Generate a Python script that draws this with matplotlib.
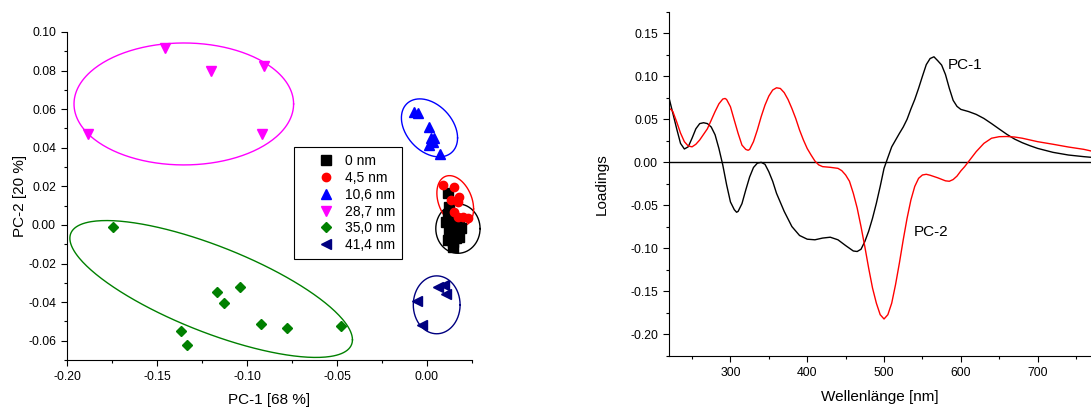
import numpy as np
import matplotlib
matplotlib.use("Agg")
import matplotlib.pyplot as plt
from matplotlib.ticker import MultipleLocator, FormatStrFormatter

plt.rcParams["font.family"] = ["Liberation Sans", "DejaVu Sans"]

# --- PCA scores (PC-1, PC-2) per layer thickness ---
labels = ["0 nm", "4,5 nm", "10,6 nm", "28,7 nm", "35,0 nm", "41,4 nm"]
colors = ["#000000", "#ff0000", "#0000ff", "#ff00ff", "#008000", "#000080"]
markers = ["s", "o", "^", "v", "D", "<"]

pc1_0nm = [0.0115, 0.0124, 0.0115, 0.0106, 0.0133, 0.0161, 0.0180, 0.0189,
           0.0124, 0.0161, 0.0115, 0.0143, 0.0161, 0.0143, 0.0180]
pc2_0nm = [0.0164, 0.0095, 0.0052, 0.0017, 0.0009, -0.0009, 0.0000, -0.0017,
           -0.0034, -0.0043, -0.0077, -0.0086, -0.0069, -0.0112, -0.0060]
pc1_4nm = [0.0087, 0.0152, 0.0180, 0.0133, 0.0171, 0.0152, 0.0171, 0.0199, 0.0226]
pc2_4nm = [0.0207, 0.0196, 0.0147, 0.0130, 0.0121, 0.0069, 0.0043, 0.0043, 0.0035]
pc1_10nm = [-0.0071, -0.0052, 0.0013, 0.0022, 0.0040, 0.0013, 0.0074, 0.0031]
pc2_10nm = [0.0587, 0.0579, 0.0506, 0.0449, 0.0449, 0.0415, 0.0366, 0.0432]
pc1_28nm = [-0.1454, -0.1200, -0.0903, -0.1883, -0.0914]
pc2_28nm = [0.0919, 0.0800, 0.0824, 0.0472, 0.0472]
pc1_35nm = [-0.1742, -0.1369, -0.1332, -0.1166, -0.1129, -0.1040, -0.0921, -0.0776, -0.0476]
pc2_35nm = [-0.0009, -0.0552, -0.0620, -0.0350, -0.0405, -0.0323, -0.0511, -0.0532, -0.0523]
pc1_41nm = [-0.0056, -0.0025, 0.0064, 0.0096, 0.0108]
pc2_41nm = [-0.0392, -0.0518, -0.0321, -0.0311, -0.0359]

scores_x = [pc1_0nm, pc1_4nm, pc1_10nm, pc1_28nm, pc1_35nm, pc1_41nm]
scores_y = [pc2_0nm, pc2_4nm, pc2_10nm, pc2_28nm, pc2_35nm, pc2_41nm]

# group ellipses: centre and two conjugate semi-axis vectors (data units)
ell_center = [(0.0172, -0.0019), (0.0157, 0.0124), (0.0014, 0.0503),
              (-0.1351, 0.0627), (-0.1199, -0.0332), (0.0054, -0.0414)]
ell_u = [(0.0123, 0.0), (0.0102, -0.0041), (0.0156, -0.0052),
         (0.0610, 0.0), (0.0785, -0.0263), (0.0130, 0.0)]
ell_v = [(0.0, 0.0128), (0.0, 0.0125), (0.0, 0.0141),
         (0.0, 0.0316), (0.0, 0.0238), (0.0, 0.0150)]

# --- loadings ---
wl_pc1 = [220, 230, 235, 240, 245, 250, 255, 260, 265, 270, 275, 280, 285, 290,
          295, 300, 305, 308, 310, 315, 320, 325, 330, 335, 340, 345, 350, 355,
          360, 370, 380, 390, 400, 410, 420, 430, 440, 450, 460, 465, 470, 475,
          480, 485, 490, 495, 500, 505, 510, 520, 525, 530, 535, 540, 545, 550,
          555, 560, 565, 570, 575, 580, 585, 590, 595, 600, 610, 620, 630, 640,
          650, 660, 670, 680, 690, 700, 720, 740, 760, 770]
pc1 = [0.075, 0.039, 0.022, 0.0155, 0.018, 0.028, 0.039, 0.045, 0.046, 0.045,
       0.041, 0.032, 0.016, -0.003, -0.026, -0.046, -0.055, -0.058, -0.057,
       -0.048, -0.032, -0.017, -0.006, -0.001, 0.000, -0.0023, -0.011, -0.022,
       -0.036, -0.057, -0.0746, -0.085, -0.0893, -0.090, -0.088, -0.087, -0.090,
       -0.0967, -0.103, -0.1036, -0.101, -0.092, -0.080, -0.065, -0.0476,
       -0.028, -0.007, 0.0056, 0.018, 0.0336, 0.041, 0.050, 0.062, 0.073, 0.086,
       0.100, 0.1135, 0.1206, 0.1226, 0.118, 0.113, 0.102, 0.086, 0.072, 0.065,
       0.0615, 0.059, 0.0557, 0.051, 0.045, 0.0387, 0.0325, 0.027, 0.0228,
       0.0193, 0.0162, 0.0116, 0.0085, 0.0066, 0.0058]

wl_pc2 = [220, 222, 225, 230, 235, 240, 245, 250, 255, 260, 270, 280, 285, 290,
          293, 295, 300, 305, 310, 315, 320, 323, 325, 330, 335, 340, 345, 350,
          355, 360, 365, 370, 375, 380, 385, 390, 395, 400, 405, 410, 415, 420,
          430, 440, 445, 450, 455, 460, 465, 470, 475, 480, 485, 490, 495, 500,
          505, 510, 515, 520, 525, 530, 535, 540, 545, 550, 555, 560, 570, 580,
          585, 590, 595, 600, 605, 610, 620, 630, 640, 650, 660, 670, 680, 690,
          700, 720, 740, 760, 770]
pc2 = [0.061, 0.062, 0.059, 0.047, 0.034, 0.024, 0.019, 0.018, 0.021, 0.026,
       0.039, 0.059, 0.068, 0.0735, 0.0742, 0.073, 0.0646, 0.049, 0.0336, 0.020,
       0.015, 0.014, 0.015, 0.024, 0.0375, 0.053, 0.0665, 0.077, 0.084, 0.0866,
       0.0858, 0.081, 0.073, 0.0626, 0.051, 0.0375, 0.026, 0.016, 0.0085,
       0.0015, -0.003, -0.005, -0.0058, -0.007, -0.0097, -0.0147, -0.022,
       -0.036, -0.053, -0.0746, -0.098, -0.123, -0.146, -0.1636, -0.177,
       -0.182, -0.177, -0.1636, -0.142, -0.117, -0.090, -0.065, -0.0437,
       -0.028, -0.0186, -0.0147, -0.0139, -0.0150, -0.018, -0.0215, -0.022,
       -0.020, -0.016, -0.010, -0.005, 0.0008, 0.0124, 0.022, 0.028, 0.0298,
       0.030, 0.0294, 0.028, 0.026, 0.024, 0.021, 0.0178, 0.0151, 0.0131]

fig = plt.figure(figsize=(10.91, 4.09), dpi=100)

def style_axes(ax):
    for side in ("top", "right"):
        ax.spines[side].set_visible(False)
    ax.tick_params(which="major", direction="out", length=4.5, width=0.8, labelsize=8.8)
    ax.tick_params(which="minor", direction="out", length=2.5, width=0.8)

# scores plot
ax1 = fig.add_axes([0.0614, 0.1198, 0.3712, 0.802])
t = np.linspace(0, 2 * np.pi, 300)
for i in range(len(labels)):
    cx, cy = ell_center[i]
    ux, uy = ell_u[i]
    vx, vy = ell_v[i]
    ax1.plot(cx + ux * np.cos(t) + vx * np.sin(t), cy + uy * np.cos(t) + vy * np.sin(t),
             color=colors[i], lw=1.0, clip_on=False)
for i in range(len(labels)):
    ms = {"D": 5.5, "o": 6.0}.get(markers[i], 6.5)
    ax1.plot(scores_x[i], scores_y[i], linestyle="none", marker=markers[i],
             color=colors[i], markersize=ms, label=labels[i], clip_on=False)
ax1.set_xlim(-0.2, 0.025)
ax1.set_ylim(-0.07, 0.10)
ax1.xaxis.set_major_locator(MultipleLocator(0.05))
ax1.xaxis.set_minor_locator(MultipleLocator(0.025))
ax1.yaxis.set_major_locator(MultipleLocator(0.02))
ax1.yaxis.set_minor_locator(MultipleLocator(0.01))
ax1.xaxis.set_major_formatter(FormatStrFormatter("%.2f"))
ax1.yaxis.set_major_formatter(FormatStrFormatter("%.2f"))
style_axes(ax1)
ax1.set_xlabel("PC-1 [68 %]", fontsize=11, labelpad=7)
ax1.set_ylabel("PC-2 [20 %]", fontsize=11, labelpad=1)
leg = ax1.legend(loc="upper left", bbox_to_anchor=(0.561, 0.6485), fontsize=10,
                 fancybox=False, framealpha=1, edgecolor="black",
                 handlelength=3.6, handletextpad=-0.43, labelspacing=0.2,
                 borderpad=0.5, borderaxespad=0)
leg.get_frame().set_linewidth(0.8)

# loadings plot (axis runs off the right-hand edge of the figure)
ax2 = fig.add_axes([0.6132, 0.1296, 0.3868, 0.8418])
ax2.axhline(0, color="black", lw=1.0)
ax2.plot(wl_pc1, pc1, color="black", lw=1.0)
ax2.plot(wl_pc2, pc2, color="red", lw=1.0)
ax2.set_xlim(220, 769.5)
ax2.set_ylim(-0.225, 0.175)
ax2.xaxis.set_major_locator(MultipleLocator(100))
ax2.xaxis.set_minor_locator(MultipleLocator(50))
ax2.yaxis.set_major_locator(MultipleLocator(0.05))
ax2.yaxis.set_minor_locator(MultipleLocator(0.025))
ax2.yaxis.set_major_formatter(FormatStrFormatter("%.2f"))
style_axes(ax2)
ax2.text(583, 0.113, "PC-1", fontsize=11, va="center", ha="left")
ax2.text(539, -0.081, "PC-2", fontsize=11, va="center", ha="left")
ax2.set_xlabel("Wellenlänge [nm]", fontsize=11, labelpad=8)
ax2.set_ylabel("Loadings", fontsize=11, labelpad=15)

fig.savefig("out.png", dpi=100)
